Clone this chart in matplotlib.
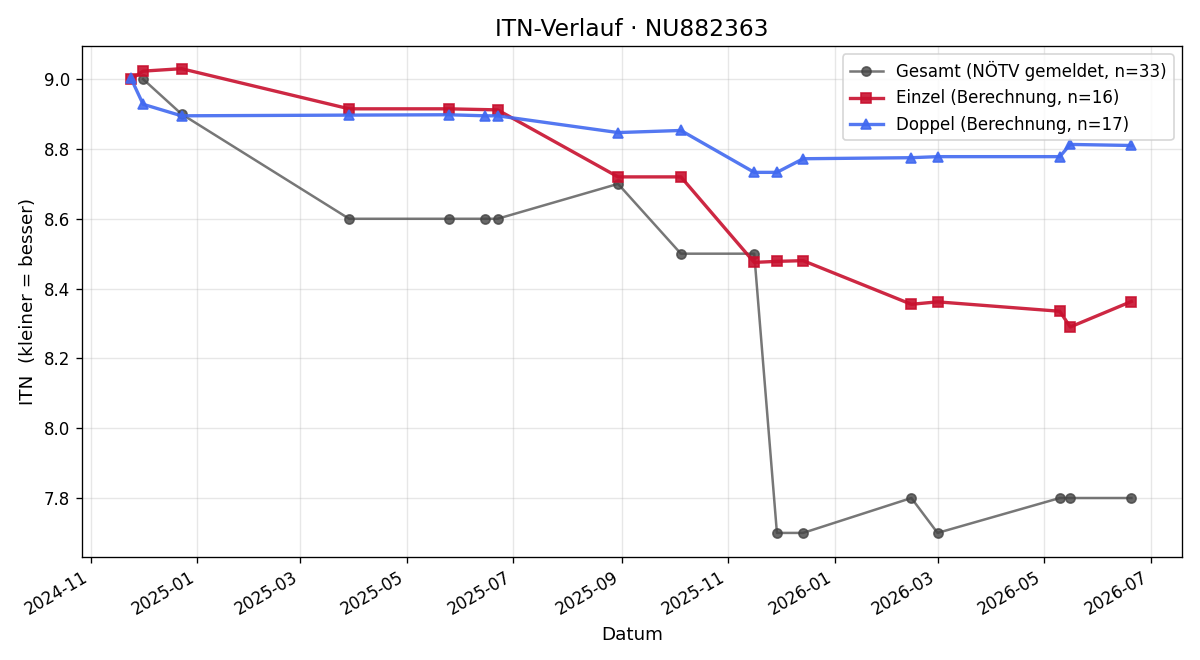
import matplotlib
matplotlib.use("Agg")
import matplotlib.pyplot as plt
import matplotlib.dates as mdates
import pandas as pd

gesamt_dates = ["2024-12-01", "2024-12-23", "2025-03-29", "2025-05-25", "2025-06-15",
                "2025-06-22", "2025-08-30", "2025-10-05", "2025-11-16", "2025-11-29",
                "2025-12-14", "2026-02-14", "2026-03-01", "2026-05-10", "2026-05-16",
                "2026-06-20"]
gesamt_vals = [9.0, 8.9, 8.6, 8.6, 8.6, 8.6, 8.7, 8.5, 8.5, 7.7, 7.7, 7.8, 7.7, 7.8, 7.8, 7.8]

einzel_dates = ["2024-11-24", "2024-12-01", "2024-12-23", "2025-03-29", "2025-05-25",
                "2025-06-22", "2025-08-30", "2025-10-05", "2025-11-16", "2025-11-29",
                "2025-12-14", "2026-02-14", "2026-03-01", "2026-05-10", "2026-05-16",
                "2026-06-20"]
einzel_vals = [9.0, 9.023, 9.03, 8.915, 8.915, 8.912, 8.72, 8.72, 8.475, 8.478,
               8.48, 8.355, 8.362, 8.335, 8.29, 8.363]

doppel_dates = ["2024-11-24", "2024-12-01", "2024-12-23", "2025-03-29", "2025-05-25",
                "2025-06-15", "2025-06-22", "2025-08-30", "2025-10-05", "2025-11-16",
                "2025-11-29", "2025-12-14", "2026-02-14", "2026-03-01", "2026-05-10",
                "2026-05-16", "2026-06-20"]
doppel_vals = [9.003, 8.928, 8.895, 8.897, 8.898, 8.895, 8.895, 8.847, 8.853, 8.733,
               8.733, 8.772, 8.775, 8.778, 8.778, 8.813, 8.81]

fig, ax = plt.subplots(figsize=(10, 5.5), dpi=120)

ax.plot(pd.to_datetime(gesamt_dates), gesamt_vals, color="#555555", alpha=0.8,
        lw=1.5, marker="o", markersize=5.5, markerfacecolor="#444444",
        markeredgecolor="#444444", label="Gesamt (NÖTV gemeldet, n=33)", zorder=2)
ax.plot(pd.to_datetime(einzel_dates), einzel_vals, color="#c8102e", alpha=0.9,
        lw=2, marker="s", markersize=6.3, label="Einzel (Berechnung, n=16)", zorder=3)
ax.plot(pd.to_datetime(doppel_dates), doppel_vals, color="#4169f0", alpha=0.9,
        lw=2, marker="^", markersize=6.3, label="Doppel (Berechnung, n=17)", zorder=3)

ax.set_title("ITN-Verlauf · NU882363", fontsize=14)
ax.set_xlabel("Datum", fontsize=11)
ax.set_ylabel("ITN  (kleiner = besser)", fontsize=11)
ax.set_ylim(7.631, 9.095)
ax.set_xlim(pd.Timestamp("2024-10-27"), pd.Timestamp("2026-07-19"))
ax.xaxis.set_major_locator(mdates.MonthLocator(bymonth=[1, 3, 5, 7, 9, 11]))
ax.xaxis.set_major_formatter(mdates.DateFormatter("%Y-%m"))
ax.grid(True, alpha=0.3)
ax.tick_params(labelsize=10)
ax.legend(loc="upper right", fontsize=10)
fig.autofmt_xdate()
fig.subplots_adjust(left=82/1200, right=1182/1200, top=1-46/660, bottom=1-557/660)
fig.savefig("out.png")
